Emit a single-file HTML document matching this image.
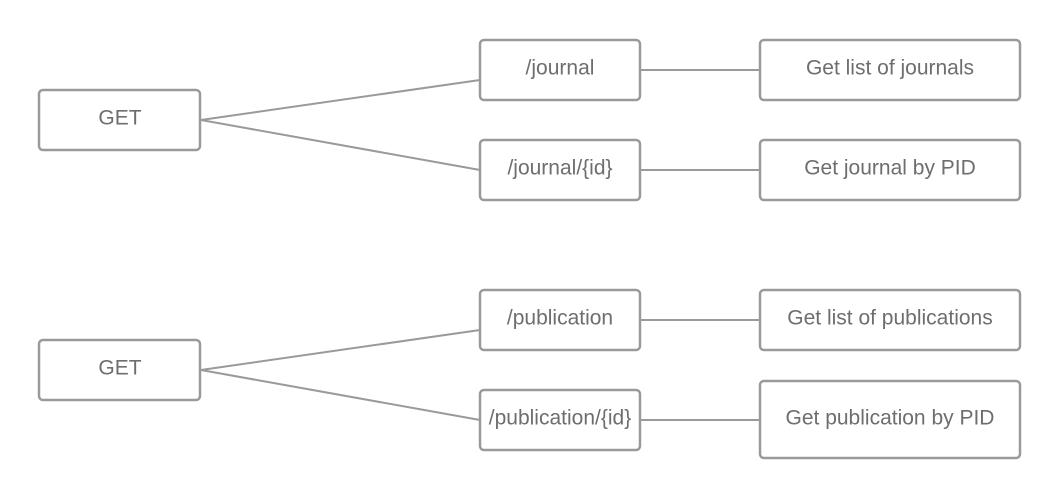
<!DOCTYPE html>
<html><head><style>
body{margin:0;background:#fff;}
svg text{font-family:"Liberation Sans",sans-serif;font-size:21px;fill:#6e6e6e;text-anchor:middle;dominant-baseline:central;}
</style></head><body>
<svg width="1060" height="499" viewBox="0 0 1060 499" xmlns="http://www.w3.org/2000/svg">
<g stroke="#9a9a9a" stroke-width="2" fill="none">
<line x1="201" y1="120" x2="480" y2="80"/>
<line x1="201" y1="120" x2="480" y2="170"/>
<line x1="640" y1="70" x2="760" y2="70"/>
<line x1="640" y1="170" x2="760" y2="170"/>
<line x1="201" y1="370" x2="480" y2="330"/>
<line x1="201" y1="370" x2="480" y2="420"/>
<line x1="640" y1="320" x2="760" y2="320"/>
<line x1="640" y1="420" x2="760" y2="420"/>
<g stroke-width="2.5">
<rect x="39" y="90" width="161" height="60" rx="4"/>
<rect x="480" y="40" width="160" height="60" rx="4"/>
<rect x="480" y="140" width="160" height="60" rx="4"/>
<rect x="760" y="40" width="260" height="60" rx="4"/>
<rect x="760" y="140" width="260" height="60" rx="4"/>
<rect x="39" y="340" width="161" height="60" rx="4"/>
<rect x="480" y="290" width="160" height="60" rx="4"/>
<rect x="480" y="390" width="160" height="60" rx="4"/>
<rect x="760" y="290" width="260" height="60" rx="4"/>
<rect x="760" y="381" width="260" height="77" rx="4"/>
</g>
</g>
<text x="120" y="118">GET</text>
<text x="560" y="68">/journal</text>
<text x="560" y="168">/journal/{id}</text>
<text x="890" y="68">Get list of journals</text>
<text x="890" y="168">Get journal by PID</text>
<text x="120" y="368">GET</text>
<text x="560" y="318">/publication</text>
<text x="560" y="418">/publication/{id}</text>
<text x="890" y="318">Get list of publications</text>
<text x="890" y="418">Get publication by PID</text>
</svg>
</body></html>
